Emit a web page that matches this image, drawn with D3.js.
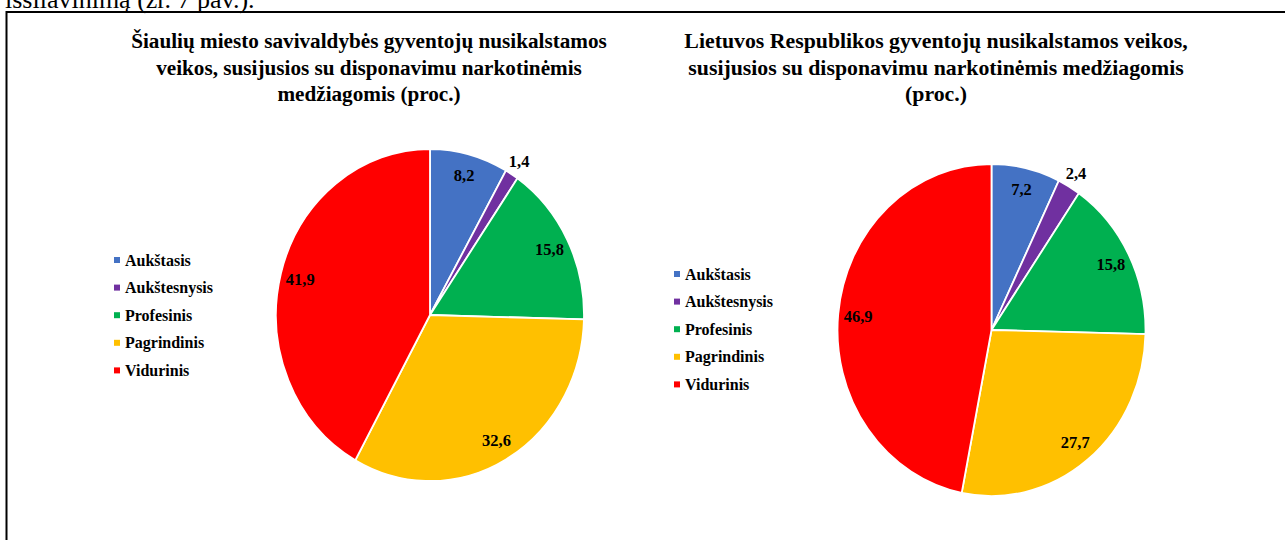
<!DOCTYPE html>
<html>
<head>
<meta charset="utf-8">
<script src="https://cdn.jsdelivr.net/npm/d3@7"></script>
<style>
  html, body { margin: 0; padding: 0; background: #fff; overflow: hidden; }
  svg { display: block; font-family: "Liberation Serif", "Times New Roman", serif; }
</style>
</head>
<body>
<svg id="chart"></svg>
<script>
const categories = ["Aukštasis", "Aukštesnysis", "Profesinis", "Pagrindinis", "Vidurinis"];
const colors = ["#4472C4", "#7030A0", "#00B050", "#FFC000", "#FF0000"];
const siauliaiValues = [8.2, 1.4, 15.8, 32.6, 41.9];
const lietuvaValues = [7.2, 2.4, 15.8, 27.7, 46.9];
const siauliaiTitle = [
  "Šiaulių miesto savivaldybės gyventojų nusikalstamos",
  "veikos, susijusios su disponavimu narkotinėmis",
  "medžiagomis (proc.)"
];
const lietuvaTitle = [
  "Lietuvos Respublikos gyventojų nusikalstamos veikos,",
  "susijusios su disponavimu narkotinėmis medžiagomis",
  "(proc.)"
];
const captionText = "išsilavinimą (žr. 7 pav.).";

const W = 1285, H = 540;
const svg = d3.select("#chart").attr("width", W).attr("height", H);

const ltFormat = d3.formatLocale({decimal: ",", thousands: " ", grouping: [3], currency: ["", " €"]}).format(".1f");
const color = d3.scaleOrdinal().domain(categories).range(colors);

// text from the page above, cut off by the top edge
svg.append("text")
  .attr("x", 5)
  .attr("y", 8)
  .attr("font-size", 26)
  .text(captionText);

// frame around the figure
svg.append("rect")
  .attr("x", 6.5)
  .attr("y", 12)
  .attr("width", 1320)
  .attr("height", 600)
  .attr("fill", "none")
  .attr("stroke", "#000")
  .attr("stroke-width", 2);

const rx = 154, ry = 166;
const stretch = ry / rx;

function drawPanel(opts) {
  const g = svg.append("g");

  // title
  g.append("text")
    .attr("text-anchor", "middle")
    .attr("font-weight", "bold")
    .attr("font-size", opts.titleSize)
    .selectAll("tspan")
    .data(opts.title)
    .join("tspan")
    .attr("x", opts.titleX)
    .attr("y", (d, i) => 48 + i * 26.5)
    .text(d => d);

  const pie = d3.pie().sort(null).value(d => d.value);
  const arcs = pie(categories.map((c, i) => ({cat: c, value: opts.values[i]})));

  const arc = d3.arc().innerRadius(0).outerRadius(rx);
  const inLabel = d3.arc().innerRadius(rx * 0.87).outerRadius(rx * 0.87);
  const outLabel = d3.arc().innerRadius(rx * 1.09).outerRadius(rx * 1.09);

  const pieG = g.append("g")
    .attr("transform", `translate(${opts.cx}, ${opts.cy}) scale(1, ${stretch})`);

  pieG.selectAll("path")
    .data(arcs)
    .join("path")
    .attr("d", arc)
    .attr("fill", d => color(d.data.cat))
    .attr("stroke", "#fff")
    .attr("stroke-width", 1.8)
    .attr("vector-effect", "non-scaling-stroke");

  g.append("g")
    .selectAll("text")
    .data(arcs)
    .join("text")
    .attr("text-anchor", "middle")
    .attr("font-weight", "bold")
    .attr("font-size", 16.5)
    .attr("dy", "0.35em")
    .attr("x", d => {
      const c = (d.data.value < 3 ? outLabel : inLabel).centroid(d);
      return opts.cx + c[0];
    })
    .attr("y", d => {
      const c = (d.data.value < 3 ? outLabel : inLabel).centroid(d);
      return opts.cy + c[1] * stretch;
    })
    .text(d => ltFormat(d.data.value));

  // legend
  const leg = g.append("g")
    .attr("transform", `translate(${opts.legX}, ${opts.legY})`);
  const rows = leg.selectAll("g")
    .data(categories)
    .join("g")
    .attr("transform", (d, i) => `translate(0, ${i * 27.6})`);
  rows.append("rect")
    .attr("x", 0)
    .attr("y", -3)
    .attr("width", 6)
    .attr("height", 6)
    .attr("fill", d => color(d));
  rows.append("text")
    .attr("x", 11)
    .attr("dy", "0.35em")
    .attr("font-weight", "bold")
    .attr("font-size", 16)
    .text(d => d);
}

drawPanel({
  title: siauliaiTitle, titleX: 369, titleSize: 21.2,
  values: siauliaiValues, cx: 430, cy: 315,
  legX: 114, legY: 260
});

drawPanel({
  title: lietuvaTitle, titleX: 936, titleSize: 21.8,
  values: lietuvaValues, cx: 991.5, cy: 330,
  legX: 674, legY: 274
});
</script>
</body>
</html>
